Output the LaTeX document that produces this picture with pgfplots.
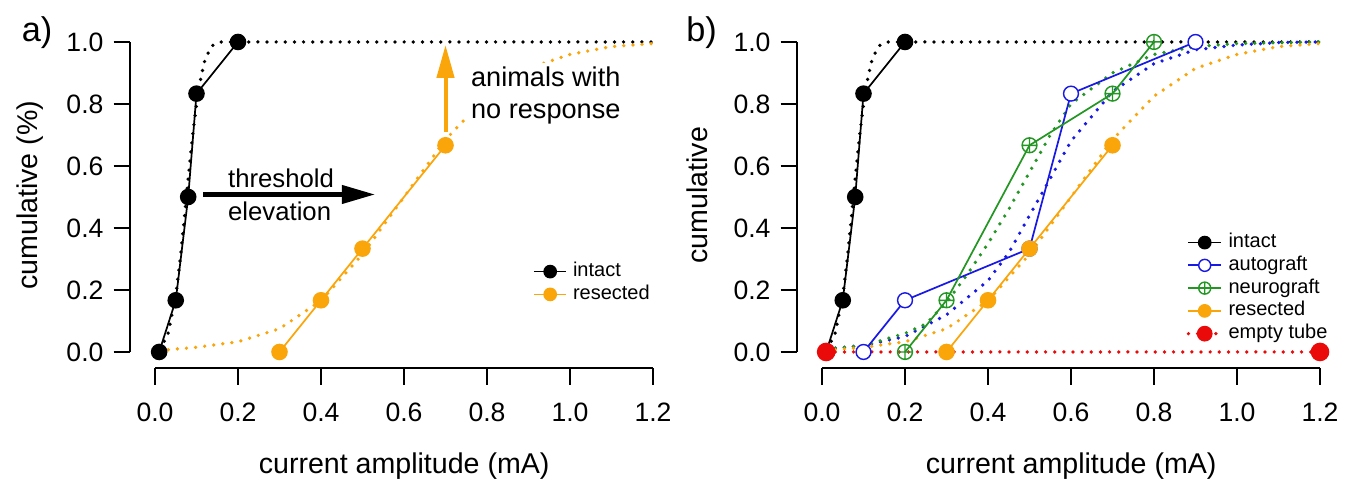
\documentclass[border=0pt]{standalone}
\usepackage{fontspec}
\setmainfont{Liberation Sans}
\usepackage{pgfplots}
\pgfplotsset{compat=1.18}
\usetikzlibrary{arrows.meta}

\definecolor{rorange}{RGB}{250,165,10}
\definecolor{rblue}{RGB}{25,25,230}
\definecolor{rgreen}{RGB}{35,150,35}
\definecolor{rred}{RGB}{235,10,10}

\pgfplotsset{
  panel/.style={
    x=145.25pt, y=108.5pt,
    xmin=-0.06, xmax=1.24, ymin=-0.052, ymax=1.05,
    anchor=south west,
    axis lines*=left,
    axis line style={draw=none},
    clip=false,
    tick align=outside,
    major tick length=5.8pt,
    tick style={black, line width=0.7pt},
    xtick={0,0.2,0.4,0.6,0.8,1.0,1.2},
    ytick={0,0.2,0.4,0.6,0.8,1.0},
    /pgf/number format/assume math mode=true,
    /pgf/number format/fixed,
    /pgf/number format/fixed zerofill,
    /pgf/number format/precision=1,
    tick label style={font=\fontsize{9.3}{11}\selectfont},
    xticklabel style={yshift=-3pt},
    label style={font=\fontsize{9.5}{11}\selectfont},
    every axis x label/.style={at={(axis description cs:0.508,-0.287)}, anchor=center},
    every axis y label/.style={at={(axis description cs:-0.185,0.506)}, rotate=90, anchor=center},
    xlabel={current amplitude (mA)},
    legend cell align=left,
    legend style={draw=none, fill=none, font=\fontsize{7}{8}\selectfont,
      row sep=-2.6pt, anchor=north west},
    legend image code/.code={\draw[mark repeat=2,mark phase=2,#1,mark size=2.1pt]
      plot coordinates {(0cm,0cm) (0.2cm,0cm) (0.4cm,0cm)};},
  },
  fit/.style={line width=1.3pt, line cap=round, dash pattern=on 0pt off 3.2pt, forget plot},
  dat/.style={line width=0.6pt, mark size=2.6pt, mark options={solid}},
}

\begin{document}
\begin{tikzpicture}
\path[use as bounding box] (0,0) rectangle (476pt,172.9pt);

% ---------------- panel a
\begin{axis}[panel, at={(45.535pt,44.065pt)},
  ylabel={cumulative (\%)},
  legend style={at={(axis description cs:0.73,0.345)}}]
\draw[line width=0.7pt] (axis cs:0,-0.052) -- (axis cs:1.2,-0.052);
\draw[line width=0.7pt] (axis cs:-0.06,0) -- (axis cs:-0.06,1);

\addplot[fit, black] coordinates {(0.01,0.01)(0.03,0.05)(0.05,0.18)(0.06,0.29)(0.07,0.42)
  (0.08,0.56)(0.09,0.69)(0.10,0.80)(0.11,0.88)(0.12,0.94)(0.13,0.97)(0.14,0.99)
  (0.16,1.0)(0.2,1.0)(1.2,1.0)};
\addplot[fit, rorange] coordinates {(0.01,0.005)(0.1,0.015)(0.2,0.033)(0.3,0.075)(0.4,0.165)
  (0.5,0.315)(0.6,0.5)(0.7,0.685)(0.8,0.825)(0.9,0.915)(1.0,0.96)(1.1,0.985)(1.2,0.995)};

\addplot[dat, black, mark=*] coordinates {(0.01,0)(0.05,0.1667)(0.08,0.5)(0.1,0.8333)(0.2,1.0)};
\addlegendentry{intact}
\addplot[dat, rorange, mark=*] coordinates {(0.3,0)(0.4,0.1667)(0.5,0.3333)(0.7,0.6667)};
\addlegendentry{resected}

\node[anchor=west, align=left, fill=white, inner sep=1.5pt,
  font=\fontsize{9.5}{11.2}\selectfont] at (axis cs:0.75,0.826) {animals with\\no response};
\draw[rorange, line width=1.4pt, -{Triangle[length=11.5pt,width=6pt]}]
  (axis cs:0.7,0.71) -- (axis cs:0.7,0.99);
\draw[black, line width=1.5pt, -{Triangle[length=11.6pt,width=6.3pt]}]
  (axis cs:0.116,0.508) -- (axis cs:0.53,0.508);
\node[anchor=west, font=\fontsize{9}{11}\selectfont] at (axis cs:0.152,0.56) {threshold};
\node[anchor=west, font=\fontsize{9}{11}\selectfont] at (axis cs:0.152,0.453) {elevation};
\node[font=\fontsize{12}{14}\selectfont] at (axis cs:-0.284,1.029) {a)};
\end{axis}

% ---------------- panel b
\begin{axis}[panel, at={(278.985pt,44.065pt)},
  ylabel={cumulative},
  legend style={at={(axis description cs:0.705,0.43)}}]
\draw[line width=0.7pt] (axis cs:0,-0.052) -- (axis cs:1.2,-0.052);
\draw[line width=0.7pt] (axis cs:-0.06,0) -- (axis cs:-0.06,1);

\addplot[fit, black] coordinates {(0.01,0.01)(0.03,0.05)(0.05,0.18)(0.06,0.29)(0.07,0.42)
  (0.08,0.56)(0.09,0.69)(0.10,0.80)(0.11,0.88)(0.12,0.94)(0.13,0.97)(0.14,0.99)
  (0.16,1.0)(0.2,1.0)(1.2,1.0)};
\addplot[fit, rblue] coordinates {(0.01,0.01)(0.1,0.02)(0.2,0.05)(0.3,0.12)(0.4,0.23)
  (0.45,0.32)(0.5,0.44)(0.55,0.56)(0.6,0.68)(0.7,0.84)(0.8,0.93)(0.9,0.975)(1.0,0.99)
  (1.1,0.998)(1.2,1.0)};
\addplot[fit, rgreen] coordinates {(0.01,0.01)(0.1,0.02)(0.2,0.06)(0.25,0.09)(0.3,0.16)
  (0.35,0.25)(0.4,0.35)(0.45,0.46)(0.5,0.58)(0.55,0.7)(0.6,0.8)(0.7,0.9)(0.8,0.96)
  (0.9,0.985)(1.0,0.995)(1.2,1.0)};
\addplot[fit, rorange] coordinates {(0.01,0.005)(0.1,0.015)(0.2,0.033)(0.3,0.075)(0.4,0.165)
  (0.5,0.315)(0.6,0.5)(0.7,0.685)(0.8,0.825)(0.9,0.915)(1.0,0.96)(1.1,0.985)(1.2,0.995)};

\addplot[dat, black, mark=*] coordinates {(0.01,0)(0.05,0.1667)(0.08,0.5)(0.1,0.8333)(0.2,1.0)};
\addlegendentry{intact}
\addplot[dat, rblue, mark=*, mark options={fill=white, line width=0.5pt}]
  coordinates {(0.1,0)(0.2,0.1667)(0.5,0.3333)(0.6,0.8333)(0.9,1.0)};
\addlegendentry{autograft}
\addplot[dat, rgreen, mark=oplus, mark options={fill=white, line width=0.5pt}]
  coordinates {(0.2,0)(0.3,0.1667)(0.5,0.6667)(0.7,0.8333)(0.8,1.0)};
\addlegendentry{neurograft}
\addplot[dat, rorange, mark=*] coordinates {(0.3,0)(0.4,0.1667)(0.5,0.3333)(0.7,0.6667)};
\addlegendentry{resected}
\addplot[rred, mark=*, mark size=2.6pt, mark options={solid}, line width=1.3pt,
  line cap=round, dash pattern=on 0pt off 3.2pt] coordinates {(0.01,0)(1.2,0)};
\addlegendentry{empty tube}

\node[font=\fontsize{12}{14}\selectfont] at (axis cs:-0.29,1.029) {b)};
\end{axis}
\end{tikzpicture}
\end{document}
